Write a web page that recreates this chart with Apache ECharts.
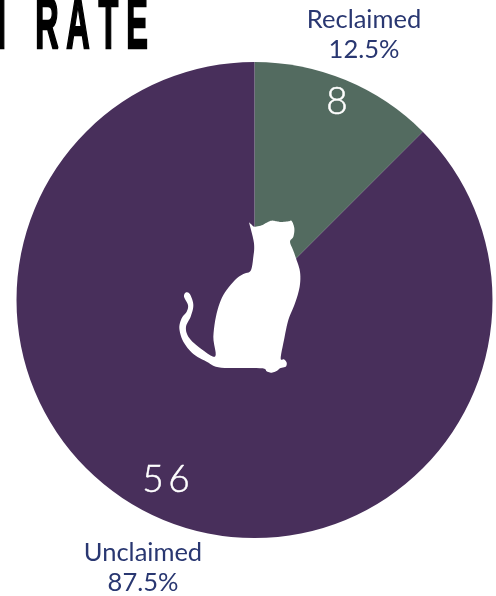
<!DOCTYPE html>
<html><head><meta charset="utf-8">
<style>html,body{margin:0;padding:0;background:#fff}#c{width:496px;height:596px}</style>
<script src="https://cdn.jsdelivr.net/npm/echarts@6/dist/echarts.min.js"></script></head>
<body><div id="c"></div>
<script>
const categories = ['Reclaimed', 'Unclaimed'];
const counts = [8, 56];
const percentLabels = ['12.5%', '87.5%'];
const countLabels = ['8', '5\u20096'];
const sliceColors = ['#536b60', '#482f5b'];
const titleLetters = [['I', 1.5], ['R', 47], ['A', 78], ['T', 108.5], ['E', 137]];
const catOutline = [[267,67],[275,74],[283,80],[305,76],[320,68],[335,62],[350,64],[365,66],[385,64],[395,63],[403,85],[400,110],[390,125],[400,152],[408,175],[420,215],[419,260],[405,310],[385,360],[372,420],[362,475],[372,478],[380,488],[377,500],[360,505],[350,513],[335,518],[320,514],[308,505],[240,504],[175,502],[140,485],[100,462],[70,425],[58,385],[65,355],[80,335],[84,315],[72,290],[78,277],[90,283],[100,315],[92,350],[78,380],[85,410],[115,440],[165,470],[160,410],[170,340],[190,285],[225,240],[250,222],[272,212],[280,170],[282,130],[267,67]];

function catPoints() {
  const p = catOutline.map(([x, y]) => [x / 3 + 160, y / 3 + 200]);
  const out = [];
  for (let i = 0; i < p.length - 1; i++) {
    const a = p[Math.max(i - 1, 0)], b = p[i], c = p[i + 1], d = p[Math.min(i + 2, p.length - 1)];
    for (let k = 0; k < 6; k++) {
      const t = k / 6, t2 = t * t, t3 = t2 * t;
      const f = j => 0.5 * (2*b[j] + (c[j]-a[j])*t + (2*a[j]-5*b[j]+4*c[j]-d[j])*t2 + (3*b[j]-a[j]-3*c[j]+d[j])*t3);
      out.push([f(0), f(1)]);
    }
  }
  return out;
}
const center = [254.5, 300];
const countPos = [[337, 102], [166, 480]];
const namePos = [[364, 35], [143, 568]];
const placed = pos => params => ({x: pos[params.dataIndex][0], y: pos[params.dataIndex][1], align: 'center', verticalAlign: 'middle', hideOverlap: false});
const chart = echarts.init(document.getElementById('c'), null, {renderer: 'canvas'});
chart.setOption({
  animation: false,
  series: [{
    type: 'pie', center, radius: [0, 238], startAngle: 90, clockwise: true,
    silent: true,
    data: categories.map((name, i) => ({name, value: counts[i], itemStyle: {color: sliceColors[i]}})),
    labelLayout: placed(countPos),
    label: {show: true, position: 'inside', color: '#fff', fontFamily: 'Lato', fontSize: 37, fontWeight: 300,
      textBorderColor: '#fff', textBorderWidth: 0.5,
      formatter: p => countLabels[p.dataIndex]},
    labelLine: {show: false}
  }, {
    type: 'pie', center, radius: [0, 238], startAngle: 90, silent: true, z: 1,
    itemStyle: {color: 'transparent'},
    data: categories.map((name, i) => ({name, value: counts[i]})),
    labelLayout: placed(namePos),
    label: {show: true, position: 'inside', color: '#293771', fontFamily: 'Lato', fontSize: 25.5, lineHeight: 29.5,
      formatter: p => categories[p.dataIndex] + '\n' + percentLabels[p.dataIndex]},
    labelLine: {show: false}
  }],
  graphic: [
    {type: 'polygon', z: 10, shape: {points: catPoints()}, style: {fill: '#fff'}},
    ...titleLetters.map(([ch, x]) => ({
      type: 'text', x, y: 64, z: 10, scaleX: 0.45,
      style: {text: ch, fontFamily: 'Liberation Sans', fontWeight: 'bold', fontSize: 72, fill: '#000', stroke: '#000', lineWidth: 2.5, textAlign: 'center', textVerticalAlign: 'bottom'},
    }))
  ]
});
</script></body></html>
